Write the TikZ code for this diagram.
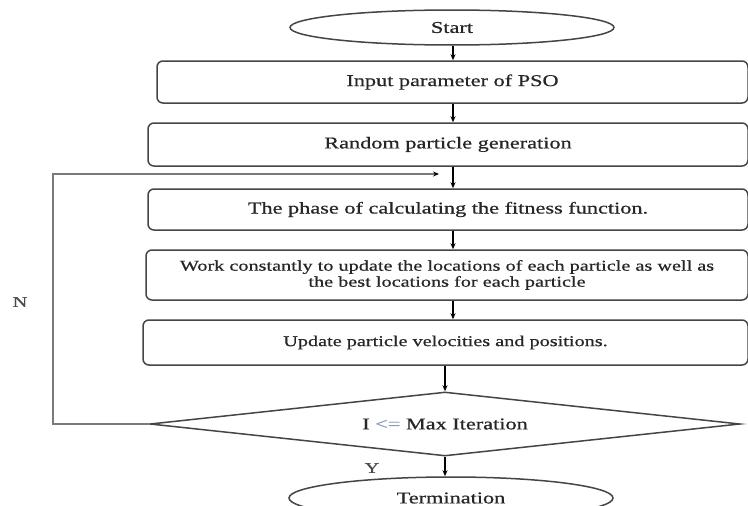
\documentclass[tikz,border=0pt]{standalone}
\usepackage{fontspec}
\setmainfont{Liberation Serif}[FakeStretch=1.35,FakeBold=0.6]
\usetikzlibrary{shapes.geometric,arrows.meta}
\definecolor{ink}{HTML}{262626}
\definecolor{edge}{HTML}{454545}
\definecolor{loopc}{HTML}{7A7A7A}
\definecolor{lecol}{HTML}{8C9AB8}
\definecolor{tagc}{HTML}{4A4A4A}
\tikzset{
  boxnode/.style={draw=edge, line width=1.5pt, rounded corners=6pt, inner sep=0pt, align=center, text=ink,
    font=\fontsize{16.5}{19}\selectfont},
  smallbox/.style={boxnode, font=\fontsize{15}{16}\selectfont},
  ovalnode/.style={ellipse, draw=edge, line width=1.5pt, inner sep=0pt, text=ink,
    minimum width=324pt, font=\fontsize{16.5}{19}\selectfont},
  decnode/.style={diamond, draw=edge, line width=1.5pt, inner sep=0pt, aspect=9, text=ink,
    minimum width=590pt, minimum height=64pt, font=\fontsize{16.5}{19}\selectfont},
  flow/.style={draw=black, line width=1.2pt, -{Stealth[length=6pt,width=5pt]}},
  loopline/.style={draw=loopc, line width=1.8pt, -{Stealth[length=6pt,width=5pt,color=black]}},
  tag/.style={text=tagc, font=\fontsize{15}{17}\selectfont, inner sep=0pt},
}
\begin{document}
\begin{tikzpicture}[x=1pt,y=-1pt]
\useasboundingbox (0,0) rectangle (748,506);
\fill[white] (0,0) rectangle (748,506);

\node[ovalnode, minimum height=35pt] (start) at (452,27.5) {Start};
\node[boxnode, minimum width=591pt, minimum height=42pt] (input) at (452.5,82) {Input parameter of PSO};
\node[boxnode, minimum width=600pt, minimum height=43pt] (random) at (448,144.5) {Random particle generation};
\node[boxnode, minimum width=600pt, minimum height=41pt] (fitness) at (448,209.5) {The phase of calculating the fitness function.};
\node[smallbox, minimum width=602pt, minimum height=50pt] (work) at (447,275) {Work constantly to update the locations of each particle as well as\\the best locations for each particle};
\node[smallbox, minimum width=605pt, minimum height=45pt] (update) at (445.5,342.5) {Update particle velocities and positions.};
\node[decnode] (dec) at (445,424) {I {\color{lecol}<=} Max Iteration};
\node[ovalnode, minimum height=42pt] (term) at (451,498) {Termination};

\node[tag] (n) at (20,302) {N};
\node[tag] (y) at (372,468) {Y};

\coordinate (c1) at (453,0);
\draw[flow] (start.south -| c1) -- (c1 |- input.north);
\draw[flow] (c1 |- input.south) -- (c1 |- random.north);
\draw[flow] (c1 |- random.south) -- (c1 |- fitness.north);
\draw[flow] (c1 |- fitness.south) -- (c1 |- work.north);
\draw[flow] (c1 |- work.south) -- (c1 |- update.north);
\coordinate (c2) at (445,0);
\draw[flow] (c2 |- update.south) -- (c2 |- dec.north);
\draw[flow] (c2 |- dec.south) -- (c2 |- term.north);

\coordinate (lc) at (53,424);
\coordinate (lt) at (53,174);
\coordinate (le) at (439,174);
\draw[loopline] (dec.west) -- (lc) -- (lt) -- (le);
\end{tikzpicture}
\end{document}
